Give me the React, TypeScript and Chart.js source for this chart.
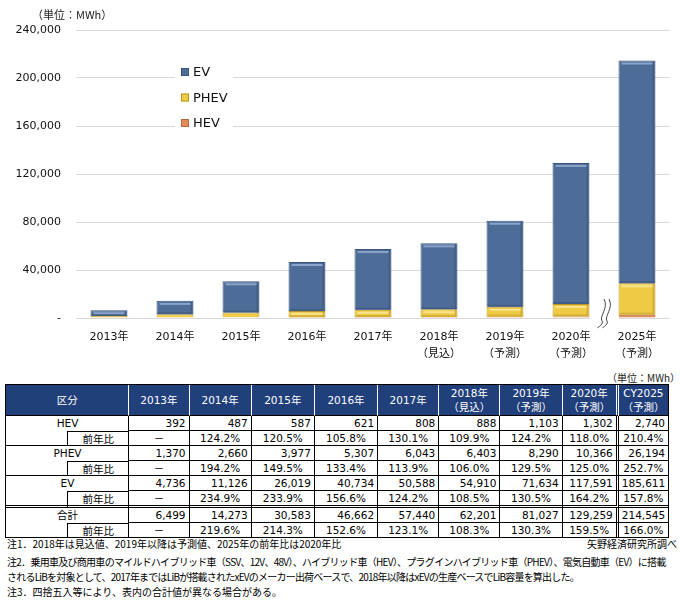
import React, { useEffect, useRef } from 'react';
import { Chart, registerables } from 'chart.js';

Chart.register(...registerables);

// ---------- data ----------
const categories: string[][] = [
  ['2013年'], ['2014年'], ['2015年'], ['2016年'], ['2017年'],
  ['2018年', '（見込）'], ['2019年', '（予測）'], ['2020年', '（予測）'], ['2025年', '（予測）'],
];
const hevValues = [392, 487, 587, 621, 808, 888, 1103, 1302, 2740];
const phevValues = [1370, 2660, 3977, 5307, 6043, 6403, 8290, 10366, 26194];
const evValues = [4736, 11126, 26019, 40734, 50588, 54910, 71634, 117591, 185611];
const totalValues = [6499, 14273, 30583, 46662, 57440, 62201, 81027, 129259, 214545];
const yTicks = [0, 40000, 80000, 120000, 160000, 200000, 240000];

const tableHeaders: string[][] = [
  ['2013年'], ['2014年'], ['2015年'], ['2016年'], ['2017年'],
  ['2018年', '（見込）'], ['2019年', '（予測）'], ['2020年', '（予測）'], ['CY2025', '（予測）'],
];
const hevYoY = ['－', '124.2%', '120.5%', '105.8%', '130.1%', '109.9%', '124.2%', '118.0%', '210.4%'];
const phevYoY = ['－', '194.2%', '149.5%', '133.4%', '113.9%', '106.0%', '129.5%', '125.0%', '252.7%'];
const evYoY = ['－', '234.9%', '233.9%', '156.6%', '124.2%', '108.5%', '130.5%', '164.2%', '157.8%'];
const totalYoY = ['－', '219.6%', '214.3%', '152.6%', '123.1%', '108.3%', '130.3%', '159.5%', '166.0%'];

// ---------- styles ----------
const FONT = "'DejaVu Sans', 'Noto Sans CJK JP', sans-serif";
const JFONT = "'Noto Sans CJK JP', sans-serif";
const COLORS = {
  hev: { fill: '#E38B59', border: '#B8683F', hi: '#F2B58E', sh: '#C2714A' },
  phev: { fill: '#EFCB45', border: '#B99527', hi: '#F8E48E', sh: '#D4AE35' },
  ev: { fill: '#4E6C98', border: '#3A557C', hi: '#8AA3C8', sh: '#435E86' },
};
const HEADER_BG = '#213F7B';

const bevelPlugin = {
  id: 'bevel',
  afterDatasetsDraw(chart: any) {
    const ctx = chart.ctx;
    const styles = [COLORS.hev, COLORS.phev, COLORS.ev];
    chart.data.datasets.forEach((_: any, di: number) => {
      const meta = chart.getDatasetMeta(di);
      meta.data.forEach((bar: any) => {
        const { x, y, base, width } = bar.getProps(['x', 'y', 'base', 'width'], true);
        const left = x - width / 2;
        const top = Math.min(y, base);
        const h = Math.abs(base - y);
        if (h < 5) return;
        ctx.save();
        ctx.fillStyle = styles[di].sh;
        ctx.fillRect(left + width - 3, top + 1, 2, h - 1);
        ctx.fillRect(left + 1, top + h - 2, width - 2, 2);
        ctx.fillStyle = styles[di].hi;
        ctx.fillRect(left + 3, top + 2, width - 6, 2);
        ctx.restore();
      });
    });
  },
};

const extrasPlugin = {
  id: 'extras',
  afterDraw(chart: any) {
    const ctx = chart.ctx;
    const area = chart.chartArea;
    const xs = chart.scales.x;
    const ys = chart.scales.y;
    ctx.save();
    const bx = (xs.getPixelForTick(7) + xs.getPixelForTick(8)) / 2;
    const by = ys.getPixelForValue(0);
    ctx.fillStyle = '#fff';
    ctx.fillRect(bx - 14, by - 2, 29, 4);
    ctx.strokeStyle = '#444';
    ctx.lineWidth = 1;
    [-3, 2].forEach((dx) => {
      ctx.beginPath();
      ctx.moveTo(bx + dx + 3, by - 19);
      ctx.bezierCurveTo(bx + dx + 8, by - 10, bx + dx - 2, by - 2, bx + dx + 1, by + 3);
      ctx.bezierCurveTo(bx + dx + 3, by + 7, bx + dx - 5, by + 10, bx + dx - 3, by + 10);
      ctx.stroke();
    });
    const lx = area.left + 99;
    const ly = area.top + 30;
    ctx.fillStyle = '#fff';
    ctx.fillRect(lx, ly, 58, 72);
    const items = [...chart.data.datasets].reverse();
    ctx.font = `13px ${FONT}`;
    ctx.textBaseline = 'middle';
    items.forEach((ds: any, i: number) => {
      const cy = ly + 12 + i * 25.5;
      ctx.fillStyle = ds.backgroundColor;
      ctx.fillRect(lx + 6, cy - 4, 8, 8);
      ctx.strokeStyle = ds.borderColor;
      ctx.strokeRect(lx + 6.5, cy - 3.5, 7, 7);
      ctx.fillStyle = '#111';
      ctx.fillText(ds.label, lx + 18, cy + 1);
    });
    ctx.restore();
  },
};

function BarChart() {
  const ref = useRef<HTMLCanvasElement>(null);
  useEffect(() => {
    if (!ref.current) return;
    const chart = new Chart(ref.current, {
      type: 'bar',
      data: {
        labels: categories,
        datasets: [
          { label: 'HEV', data: hevValues, backgroundColor: COLORS.hev.fill, borderColor: COLORS.hev.border, borderWidth: 1 },
          { label: 'PHEV', data: phevValues, backgroundColor: COLORS.phev.fill, borderColor: COLORS.phev.border, borderWidth: 1 },
          { label: 'EV', data: evValues, backgroundColor: COLORS.ev.fill, borderColor: COLORS.ev.border, borderWidth: 1 },
        ] as any,
      },
      options: {
        responsive: false,
        animation: false,
        datasets: { bar: { barPercentage: 0.56, categoryPercentage: 1 } },
        layout: { padding: { left: 0, right: 16, top: 30, bottom: 0 } },
        plugins: { legend: { display: false }, tooltip: { enabled: false } },
        scales: {
          x: {
            stacked: true,
            grid: { display: false, drawTicks: false },
            border: { display: false },
            ticks: {
              padding: 11, autoSkip: false, maxRotation: 0, color: '#111',
              font: { family: FONT, size: 11, lineHeight: 17 / 11 },
            },
            afterFit: (s: any) => { s.height = 52; },
          },
          y: {
            stacked: true,
            min: 0,
            max: 240000,
            afterBuildTicks: (s: any) => { s.ticks = yTicks.map((v) => ({ value: v })); },
            grid: { color: '#D9D9D9', drawTicks: false },
            border: { display: false },
            ticks: {
              padding: 15, color: '#111',
              font: { family: FONT, size: 11 },
              callback: (v: any) => (Number(v) === 0 ? '-' : Number(v).toLocaleString('en-US')),
            },
            afterFit: (s: any) => { s.width = 76; },
          },
        },
      } as any,
      plugins: [bevelPlugin, extrasPlugin],
    });
    return () => chart.destroy();
  }, []);
  return <canvas ref={ref} width={686} height={370} style={{ position: 'absolute', left: 0, top: 0, width: 686, height: 370 }} />;
}

const fmt = (v: number) => v.toLocaleString('en-US');

function DataTable() {
  const B = '1px solid #000';
  const D = '3px double #000';
  const colW = [62, 61, 60, 62, 63, 63, 61, 61, 62, 56, 50];
  const groups = [
    { name: 'HEV', values: hevValues.map(fmt), yoy: hevYoY },
    { name: 'PHEV', values: phevValues.map(fmt), yoy: phevYoY },
    { name: 'EV', values: evValues.map(fmt), yoy: evYoY },
    { name: '合計', values: totalValues.map(fmt), yoy: totalYoY },
  ];
  const cellBase: React.CSSProperties = {
    padding: '0 3px', height: 14, lineHeight: '14px', fontSize: 10.5, fontFamily: FONT,
    borderRight: B, borderBottom: B, whiteSpace: 'nowrap', color: '#000',
  };
  const rows: React.ReactNode[] = [];
  groups.forEach((g, gi) => {
    const lastInGroup = gi === 2 ? D : B;
    rows.push(
      <tr key={g.name + 'a'}>
        <td colSpan={2} style={{ ...cellBase, borderBottom: 'none', padding: 0, position: 'relative' }}>
          <div style={{ position: 'absolute', left: 0, top: 0, width: 123, textAlign: 'center', lineHeight: '14px' }}>{g.name}</div>
        </td>
        {g.values.map((v, i) => (
          <td key={i} style={{ ...cellBase, textAlign: 'right', borderRight: i === 7 ? D : B }}>{v}</td>
        ))}
      </tr>,
    );
    rows.push(
      <tr key={g.name + 'b'}>
        <td style={{ ...cellBase, borderBottom: lastInGroup }}></td>
        <td style={{ ...cellBase, textAlign: 'center', borderTop: B, borderBottom: lastInGroup, fontFamily: JFONT, lineHeight: '13px', height: 13, padding: 0 }}>前年比</td>
        {g.yoy.map((v, i) => (
          <td key={i} style={{ ...cellBase, textAlign: 'center', borderRight: i === 7 ? D : B, borderBottom: lastInGroup }}>{v}</td>
        ))}
      </tr>,
    );
  });
  const th: React.CSSProperties = {
    background: HEADER_BG, color: '#fff', fontWeight: 'normal', fontSize: 10.5, fontFamily: FONT,
    borderRight: '1px solid #fff', borderBottom: B, padding: 0, height: 30, lineHeight: '14px',
  };
  return (
    <table style={{ position: 'absolute', left: 5, top: 384, width: 664, tableLayout: 'fixed', borderCollapse: 'separate', borderSpacing: 0, borderLeft: B, borderTop: B }}>
      <colgroup>
        {colW.map((w, i) => <col key={i} style={{ width: w }} />)}
      </colgroup>
      <thead>
        <tr>
          <th colSpan={2} style={{ ...th, fontFamily: JFONT }}>区分</th>
          {tableHeaders.map((h, i) => (
            <th key={i} style={{ ...th, borderRight: i === 7 ? '3px double #fff' : i === 8 ? B : th.borderRight }}>
              {h.map((line, j) => <div key={j}>{line}</div>)}
            </th>
          ))}
        </tr>
      </thead>
      <tbody>{rows}</tbody>
    </table>
  );
}

export default function App() {
  const note: React.CSSProperties = { position: 'absolute', left: 7, fontSize: 10, fontFamily: JFONT, color: '#000', whiteSpace: 'nowrap', lineHeight: '14px' };
  return (
    <div style={{ position: 'absolute', left: 0, top: 0, width: 686, height: 600, background: '#fff', overflow: 'hidden' }}>
      <BarChart />
      <div style={{ position: 'absolute', left: 32, top: 6, fontSize: 11, fontFamily: JFONT, color: '#222' }}>（単位：MWh）</div>
      <div style={{ position: 'absolute', right: 6, top: 370, fontSize: 10, fontFamily: JFONT, color: '#222' }}>（単位：MWh）</div>
      <DataTable />
      <div style={{ ...note, top: 537 }}>注1．2018年は見込値、2019年以降は予測値、2025年の前年比は2020年比</div>
      <div style={{ ...note, top: 537, left: 'auto', right: 9 }}>矢野経済研究所調べ</div>
      <div style={{ ...note, top: 555, letterSpacing: -0.72 }}>注2．乗用車及び商用車のマイルドハイブリッド車（SSV、12V、48V）、ハイブリッド車（HEV）、プラグインハイブリッド車（PHEV）、電気自動車（EV）に搭載</div>
      <div style={{ ...note, top: 570, letterSpacing: -0.78 }}>されるLiBを対象として、2017年まではLiBが搭載されたxEVのメーカー出荷ベースで、2018年以降はxEVの生産ベースでLiB容量を算出した。</div>
      <div style={{ ...note, top: 585 }}>注3．四捨五入等により、表内の合計値が異なる場合がある。</div>
    </div>
  );
}
